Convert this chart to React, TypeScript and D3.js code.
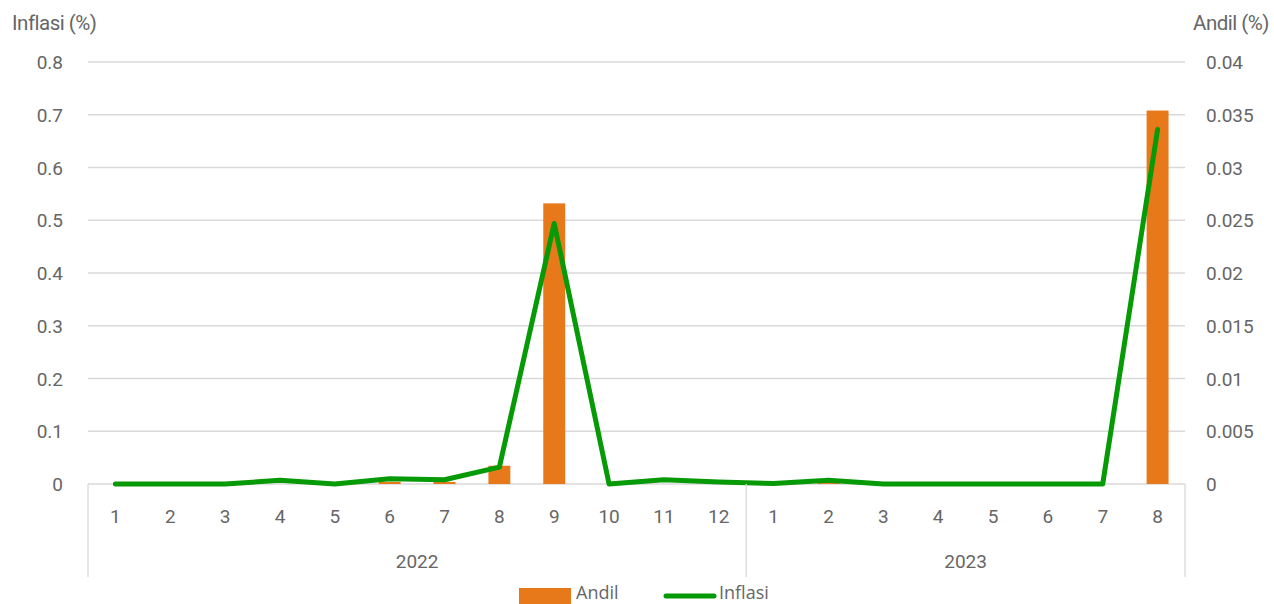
import React from "react";
import * as d3 from "d3";

const months = ["1","2","3","4","5","6","7","8","9","10","11","12","1","2","3","4","5","6","7","8"];
const years = [{ label: "2022", start: 0, end: 12 }, { label: "2023", start: 12, end: 20 }];
const andil = [0,0,0,0,0,0.0002,0.0002,0.00173,0.0266,0,0,0,0,0.0001,0,0,0,0,0,0.0354];
const inflasi = [0,0,0,0.007,0,0.01,0.008,0.032,0.494,0,0.008,0.004,0.001,0.007,0,0,0,0,0,0.672];
const leftTicks = [0,0.1,0.2,0.3,0.4,0.5,0.6,0.7,0.8];
const rightTicks = [0,0.005,0.01,0.015,0.02,0.025,0.03,0.035,0.04];

const W = 1274, H = 604;
const X0 = 88, X1 = 1185, Y0 = 484, Y1 = 62;
const text = "#666666";
const grid = "#d9d9d9";

export default function App() {
  const idx = months.map((_, i) => i);
  const x = d3.scaleBand<number>().domain(idx).range([X0, X1]).paddingInner(0).paddingOuter(0);
  const yL = d3.scaleLinear().domain([0, 0.8]).range([Y0, Y1]);
  const yR = d3.scaleLinear().domain([0, 0.04]).range([Y0, Y1]);
  const bw = x.bandwidth() * 0.4;
  const line = d3.line<number>().x((_, i) => x(i)! + x.bandwidth() / 2).y(d => yL(d));
  return (
    <svg width={W} height={H} style={{ position: "absolute", left: 0, top: 0, background: "#fff" }}>
      {leftTicks.map((t, i) => (
        <g key={"g" + i}>
          <line x1={X0} x2={X1} y1={yL(t)} y2={yL(t)} stroke={grid} strokeWidth={1.3} />
          <text x={63} y={yL(t) + 7} textAnchor="end" fontFamily="Roboto" fontSize={19} fill={text}>{String(t)}</text>
        </g>
      ))}
      {rightTicks.map((t, i) => (
        <text key={"r" + i} x={1206} y={yR(t) + 7} textAnchor="start" fontFamily="Roboto" fontSize={19} fill={text}>{String(t)}</text>
      ))}
      <text x={12} y={30} fontFamily="Roboto" fontSize={20.5} fill={text} letterSpacing={-0.5}>Inflasi (%)</text>
      <text x={1269} y={30} textAnchor="end" fontFamily="Roboto" fontSize={20.5} fill={text} letterSpacing={-0.5}>Andil (%)</text>
      {andil.map((v, i) => (
        <rect key={"b" + i} x={x(i)! + (x.bandwidth() - bw) / 2} y={yR(v)} width={bw} height={Y0 - yR(v)} fill="#e8791a" />
      ))}
      <path d={line(inflasi) || ""} fill="none" stroke="#069a06" strokeWidth={5} strokeLinejoin="round" strokeLinecap="round" />
      {[X0, x(12)!, X1].map((v, i) => (
        <line key={"s" + i} x1={v} x2={v} y1={Y0} y2={577} stroke={grid} strokeWidth={1.3} />
      ))}
      {months.map((m, i) => (
        <text key={"m" + i} x={x(i)! + x.bandwidth() / 2} y={523} textAnchor="middle" fontFamily="Roboto" fontSize={19} fill={text}>{m}</text>
      ))}
      {years.map((yv, i) => (
        <text key={"y" + i} x={(x(yv.start)! + (yv.end >= 20 ? X1 : x(yv.end)!)) / 2} y={568} textAnchor="middle" fontFamily="Roboto" fontSize={19} fill={text}>{yv.label}</text>
      ))}
      <rect x={519} y={588} width={52} height={18} fill="#e8791a" />
      <text x={576} y={599} fontFamily="Open Sans" fontSize={18} fill={text}>Andil</text>
      <line x1={666} x2={714} y1={596} y2={596} stroke="#069a06" strokeWidth={5} strokeLinecap="round" />
      <text x={719} y={599} fontFamily="Open Sans" fontSize={18} fill={text}>Inflasi</text>
    </svg>
  );
}
